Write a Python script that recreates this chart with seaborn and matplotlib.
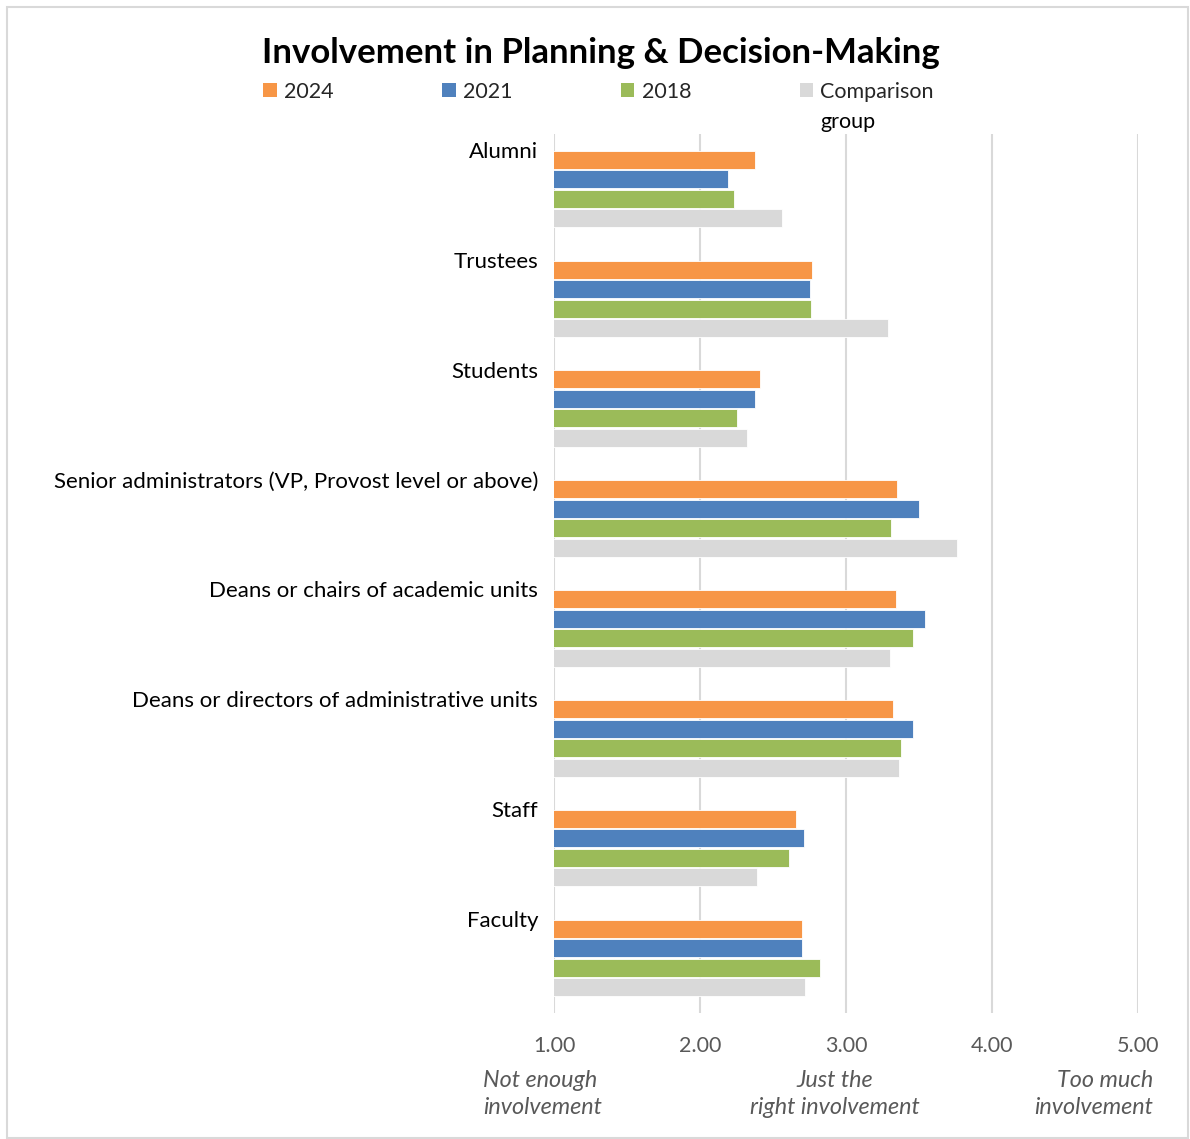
import numpy as np
import pandas as pd
import matplotlib
matplotlib.use("Agg")
import matplotlib.pyplot as plt
from matplotlib.patches import Rectangle
import seaborn as sns

categories = [
    "Alumni",
    "Trustees",
    "Students",
    "Senior administrators (VP, Provost level or above)",
    "Deans or chairs of academic units",
    "Deans or directors of administrative units",
    "Staff",
    "Faculty",
]
series_names = ["2024", "2021", "2018", "Comparison group"]
values_2024 = [2.38, 2.77, 2.41, 3.35, 3.34, 3.32, 2.66, 2.70]
values_2021 = [2.19, 2.75, 2.38, 3.50, 3.54, 3.46, 2.71, 2.70]
values_2018 = [2.23, 2.76, 2.25, 3.31, 3.46, 3.38, 2.61, 2.82]
values_comparison = [2.56, 3.29, 2.32, 3.76, 3.30, 3.36, 2.39, 2.72]
x_ticks = [1.0, 2.0, 3.0, 4.0, 5.0]
x_tick_labels = ["1.00", "2.00", "3.00", "4.00", "5.00"]
scale_notes = ["Not enough\ninvolvement", "Just the\nright involvement", "Too much\ninvolvement"]

colors = ["#F79646", "#4F81BD", "#9BBB59", "#D9D9D9"]

df = pd.DataFrame({
    "category": categories * 4,
    "series": np.repeat(series_names, len(categories)),
    "value": values_2024 + values_2021 + values_2018 + values_comparison,
})

sns.set_theme(style="white")
plt.rcParams["font.family"] = ["Lato", "DejaVu Sans"]

W, H = 1190, 1139
fig = plt.figure(figsize=(W / 100, H / 100), dpi=100)
ax = fig.add_axes([554 / W, 1 - 1013 / H, (1138 - 554) / W, (1013 - 134) / H])

sns.barplot(
    data=df, y="category", x="value", hue="series", order=categories,
    hue_order=series_names, palette=colors, orient="h", width=0.71, gap=0.08,
    edgecolor="white", linewidth=0.6, saturation=1, legend=False, ax=ax,
)

ax.set_xlim(1, 5)
ax.set_ylim(len(categories) - 0.5, -0.5)
ax.set_xticks(x_ticks)
ax.set_xticklabels(x_tick_labels, fontsize=15.5, color="#595959")
ax.set_yticks(np.arange(len(categories)) - 0.355)
ax.set_yticklabels(categories, fontsize=16, color="#000000")
ax.tick_params(axis="x", length=0, pad=16.5)
ax.tick_params(axis="y", length=0, pad=11.5)
ax.set_xlabel("")
ax.set_ylabel("")
for s in ax.spines.values():
    s.set_visible(False)
ax.grid(axis="x", color="#D9D9D9", linewidth=1.5)
ax.set_axisbelow(True)

# Title
fig.text(601 / W, 1 - 53 / H, "Involvement in Planning & Decision-Making",
         ha="center", va="center", fontsize=25, fontweight="bold", color="#000000")

# Legend across the top
handles = [Rectangle((0, 0), 1, 1, facecolor=c, edgecolor="none") for c in colors]
leg = fig.legend(handles, ["2024", "2021", "2018", "Comparison"], ncol=4,
                 loc="center left", bbox_to_anchor=(263 / W, 1 - 92 / H),
                 frameon=False, fontsize=15.5, handlelength=0.63, handleheight=0.63,
                 handletextpad=0.33, columnspacing=5.05, borderpad=0, borderaxespad=0)
fig.canvas.draw()
bb = leg.get_texts()[3].get_window_extent()
fig.text(bb.x0 / W, (bb.y0 - 10) / H, "group", ha="left", va="top", fontsize=15.5, color="#000000")

# Scale notes under the axis
note_kw = dict(fontsize=16.8, style="italic", color="#595959", va="center", linespacing=1.33)
fig.text(483 / W, 1 - 1094 / H, scale_notes[0], ha="left", multialignment="left", **note_kw)
fig.text(835 / W, 1 - 1094 / H, scale_notes[1], ha="center", multialignment="center", **note_kw)
fig.text(1153 / W, 1 - 1094 / H, scale_notes[2], ha="right", multialignment="right", **note_kw)

# Chart border
fig.add_artist(Rectangle((7 / W, 1 - 1138 / H), (1188 - 7) / W, (1138 - 7) / H,
                         transform=fig.transFigure, fill=False, edgecolor="#D9D9D9", linewidth=1.5))

fig.savefig("out.png", dpi=100)
